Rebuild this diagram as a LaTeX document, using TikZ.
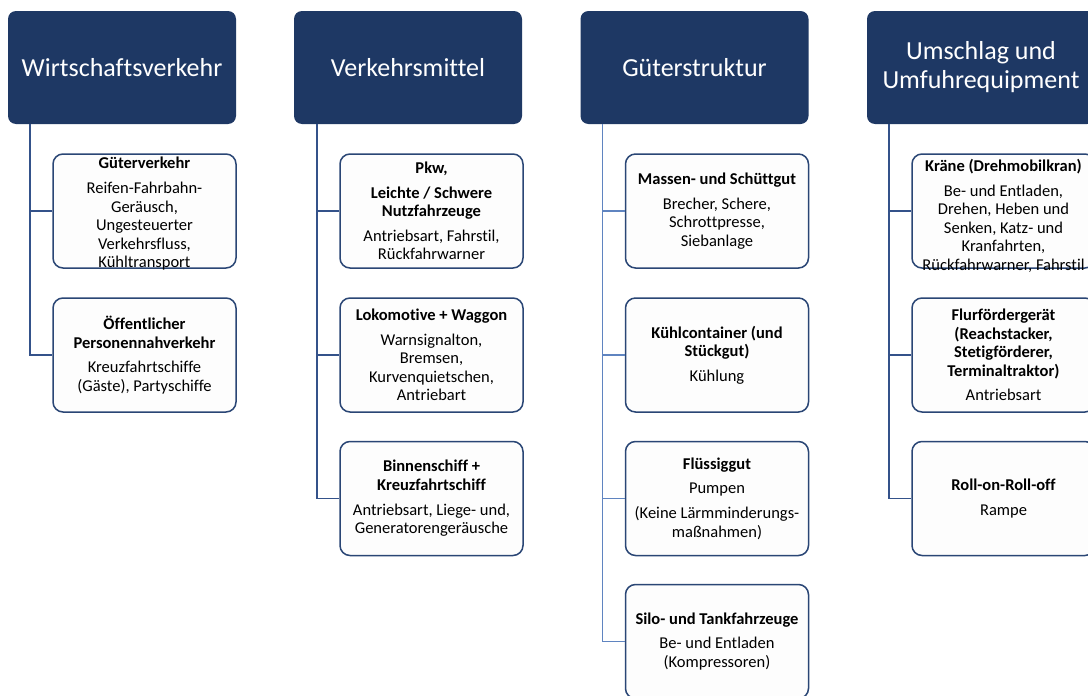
\documentclass[tikz,border=0pt]{standalone}
\usepackage{fontspec}
\setmainfont{Carlito}[Ligatures={NoCommon}]
\definecolor{navy}{HTML}{1E3864}
\definecolor{boxline}{HTML}{2A4675}
\definecolor{conn}{HTML}{34528A}
\definecolor{connlight}{HTML}{5F84C0}
\definecolor{boxfill}{HTML}{FDFDFD}
\tikzset{
  hdr/.style={draw=none, fill=navy, rounded corners=8pt, minimum width=228pt, minimum height=113pt, inner sep=0pt},
  hdrtext/.style={text=white, align=center, font=\fontsize{26}{29}\selectfont, inner sep=0pt},
  childbox/.style={draw=boxline, line width=1.5pt, fill=boxfill, rounded corners=10pt, minimum width=183pt, minimum height=114pt, inner sep=0pt},
  ctext/.style={align=center, font=\fontsize{16.5}{18.6}\selectfont, inner sep=0pt, text=black},
  link/.style={draw=conn, line width=1.5pt},
  linklight/.style={draw=connlight, line width=1.6pt},
}
\newcommand{\gap}{\\[6pt]}
\begin{document}
\begin{tikzpicture}[x=1pt,y=-1pt]
\useasboundingbox (0,0) rectangle (1088,696);
\clip (0,0) rectangle (1088,696);
\fill[white] (0,0) rectangle (1088,696);
% headers
\node[hdr] (h1) at (122,67.5) {};
\node[hdrtext] at (h1) {Wirtschaftsverkehr};
\node[hdr] (h2) at (408,67.5) {};
\node[hdrtext] at (h2) {Verkehrsmittel};
\node[hdr] (h3) at (694.5,67.5) {};
\node[hdrtext] at (h3) {Güterstruktur};
\node[hdr] (h4) at (981,67.5) {};
\node[hdrtext] at (h4) {Umschlag und\\Umfuhrequipment};
% column 1
\node[childbox] (a1) at (144.5,211) {};
\node[childbox] (a2) at (144.5,355) {};
% column 2
\node[childbox] (b1) at (431.5,211) {};
\node[childbox] (b2) at (431.5,355) {};
\node[childbox] (b3) at (431.5,498.5) {};
% column 3
\node[childbox] (c1) at (717,211) {};
\node[childbox] (c2) at (717,355) {};
\node[childbox] (c3) at (717,498.5) {};
\node[childbox] (c4) at (717,641.5) {};
% column 4
\node[childbox] (d1) at (1003.5,211) {};
\node[childbox] (d2) at (1003.5,355) {};
\node[childbox] (d3) at (1003.5,498.5) {};
% connectors
\draw[link] ([xshift=22pt]h1.south west) |- (a1.west);
\draw[link] ([xshift=22pt]h1.south west) |- (a2.west);
\draw[link] ([xshift=23pt]h2.south west) |- (b1.west);
\draw[link] ([xshift=23pt]h2.south west) |- (b2.west);
\draw[link] ([xshift=23pt]h2.south west) |- (b3.west);
\draw[linklight] ([xshift=22pt]h3.south west) |- (c1.west);
\draw[linklight] ([xshift=22pt]h3.south west) |- (c2.west);
\draw[linklight] ([xshift=22pt]h3.south west) |- (c3.west);
\draw[linklight] ([xshift=22pt]h3.south west) |- (c4.west);
\draw[link] ([xshift=22pt]h4.south west) |- (d1.west);
\draw[link] ([xshift=22pt]h4.south west) |- (d2.west);
\draw[link] ([xshift=22pt]h4.south west) |- (d3.west);
% texts
\node[ctext] at ([yshift=-3pt]a1.center) {\textbf{Güterverkehr}\gap Reifen-Fahrbahn-\\Geräusch,\\Ungesteuerter\\Verkehrsfluss,\\Kühltransport};
\node[ctext] at (a2) {\textbf{Öffentlicher}\\\textbf{Personennahverkehr}\gap Kreuzfahrtschiffe\\(Gäste), Partyschiffe};
\node[ctext] at (b1) {\textbf{Pkw,}\gap\textbf{Leichte / Schwere}\\\textbf{Nutzfahrzeuge}\gap Antriebsart, Fahrstil,\\Rückfahrwarner};
\node[ctext] at (b2) {\textbf{Lokomotive + Waggon}\gap Warnsignalton,\\Bremsen,\\Kurvenquietschen,\\Antriebart};
\node[ctext] at (b3) {\textbf{Binnenschiff +}\\\textbf{Kreuzfahrtschiff}\gap Antriebsart, Liege- und,\\Generatorengeräusche};
\node[ctext] at (c1) {\textbf{Massen- und Schüttgut}\gap Brecher, Schere,\\Schrottpresse,\\Siebanlage};
\node[ctext] at (c2) {\textbf{Kühlcontainer (und}\\\textbf{Stückgut)}\gap Kühlung};
\node[ctext] at (c3) {\textbf{Flüssiggut}\gap Pumpen\gap (Keine Lärmminderungs-\\maßnahmen)};
\node[ctext] at (c4) {\textbf{Silo- und Tankfahrzeuge}\gap Be- und Entladen\\(Kompressoren)};
\node[ctext] at ([yshift=-5pt]d1.center) {\textbf{Kräne (Drehmobilkran)}\gap Be- und Entladen,\\Drehen, Heben und\\Senken, Katz- und\\Kranfahrten,\\Rückfahrwarner, Fahrstil};
\node[ctext] at (d2) {\textbf{Flurfördergerät}\\\textbf{(Reachstacker,}\\\textbf{Stetigförderer,}\\\textbf{Terminaltraktor)}\gap Antriebsart};
\node[ctext] at (d3) {\textbf{Roll-on-Roll-off}\gap Rampe};
\end{tikzpicture}
\end{document}
